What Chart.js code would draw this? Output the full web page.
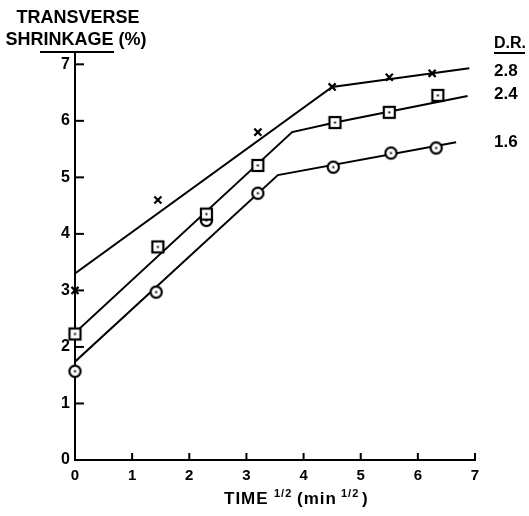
<!DOCTYPE html>
<html>
<head>
<meta charset="utf-8">
<script src="https://cdn.jsdelivr.net/npm/chart.js@4.4.1/dist/chart.umd.min.js"></script>
<style>
  html, body { margin: 0; padding: 0; background: #fff; }
  #wrap { width: 529px; height: 516px; }
</style>
</head>
<body>
<div id="wrap"><canvas id="chart" width="529" height="516"></canvas></div>
<script>
// measured points, D.R. = 2.8 (x marks)
const time28 = [0, 1.45, 3.2, 4.5, 5.5, 6.25]
const shrink28 = [3.0, 4.6, 5.8, 6.6, 6.77, 6.84]
// D.R. = 2.4 (squares)
const time24 = [0, 1.45, 2.3, 3.2, 4.55, 5.5, 6.35]
const shrink24 = [2.23, 3.77, 4.35, 5.21, 5.97, 6.15, 6.45]
// D.R. = 1.6 (circles)
const time16 = [0, 1.42, 2.3, 3.2, 4.52, 5.53, 6.32]
const shrink16 = [1.57, 2.97, 4.24, 4.72, 5.18, 5.43, 5.52]

// hand drawn fit lines
const fitTime28 = [0, 4.5, 6.9]
const fitShrink28 = [3.3, 6.6, 6.93]
const fitTime24 = [0, 3.8, 4.55, 6.87]
const fitShrink24 = [2.25, 5.8, 5.97, 6.44]
const fitTime16 = [0, 3.55, 6.67]
const fitShrink16 = [1.74, 5.04, 5.62]

const xTicks = [0, 1, 2, 3, 4, 5, 6, 7]
const yTicks = [0, 1, 2, 3, 4, 5, 6, 7]
const drLabels = ['2.8', '2.4', '1.6']

const FONT = '"Liberation Sans", Arial, sans-serif'

function pts(xs, ys) {
  return xs.map((x, i) => ({ x: x, y: ys[i] }))
}

function markerCanvas(kind) {
  const c = document.createElement('canvas')
  c.width = 17
  c.height = 17
  const g = c.getContext('2d')
  g.fillStyle = '#fff'
  g.strokeStyle = '#000'
  g.lineWidth = 2.2
  if (kind === 'square') {
    g.fillRect(3, 3, 11, 11)
    g.strokeRect(3, 3, 11, 11)
  } else {
    g.beginPath()
    g.arc(8.5, 8.5, 5.6, 0, Math.PI * 2)
    g.fill()
    g.stroke()
  }
  g.fillStyle = '#000'
  g.fillRect(7.5, 7.5, 2, 2)
  return c
}

const lineStyle = {
  showLine: true,
  borderColor: '#000',
  borderWidth: 2,
  pointRadius: 0,
  fill: false,
  tension: 0,
  order: 2,
}

const paperPlugin = {
  id: 'paper',
  beforeDraw(chart) {
    const ctx = chart.ctx
    ctx.save()
    ctx.fillStyle = '#fff'
    ctx.fillRect(0, 0, chart.width, chart.height)
    ctx.restore()
  },
  afterDraw(chart) {
    const ctx = chart.ctx
    const xs = chart.scales.x
    const ys = chart.scales.y
    const area = chart.chartArea
    ctx.save()
    ctx.strokeStyle = '#000'
    ctx.fillStyle = '#000'
    ctx.lineWidth = 2

    // inward tick marks
    yTicks.slice(1).forEach(v => {
      const py = ys.getPixelForValue(v)
      ctx.beginPath()
      ctx.moveTo(area.left, py)
      ctx.lineTo(area.left + 9, py)
      ctx.stroke()
    })
    xTicks.slice(1).forEach(v => {
      const px = xs.getPixelForValue(v)
      ctx.beginPath()
      ctx.moveTo(px, area.bottom)
      ctx.lineTo(px, area.bottom - 7)
      ctx.stroke()
    })

    // y title
    ctx.font = 'bold 18px ' + FONT
    ctx.textAlign = 'center'
    ctx.textBaseline = 'middle'
    ctx.fillText('TRANSVERSE', 78, 18)
    ctx.fillText('SHRINKAGE (%)', 76, 40)
    ctx.beginPath()
    ctx.moveTo(40, 52)
    ctx.lineTo(114, 52)
    ctx.stroke()

    // D.R. labels
    ctx.textAlign = 'left'
    ctx.font = 'bold 16px ' + FONT
    ctx.fillText('D.R.', 494, 44)
    ctx.beginPath()
    ctx.moveTo(494, 53)
    ctx.lineTo(525, 53)
    ctx.stroke()
    ctx.font = 'bold 17px ' + FONT
    const drY = [fitShrink28[2], fitShrink24[3], fitShrink16[2]]
    const drOff = [3, -2, 0]
    drLabels.forEach((t, i) => {
      ctx.fillText(t, 494, ys.getPixelForValue(drY[i]) + drOff[i])
    })

    // x title with superscripts
    const base = 504
    ctx.textBaseline = 'alphabetic'
    const parts = [
      ['TIME', 17, 0, 224],
      ['1/2', 11, -7, 274],
      ['(min', 17, 0, 297],
      ['1/2', 11, -7, 341],
      [')', 17, 0, 362],
    ]
    ctx.letterSpacing = '1px'
    parts.forEach(p => {
      ctx.font = 'bold ' + p[1] + 'px ' + FONT
      ctx.fillText(p[0], p[3], base + p[2])
    })
    ctx.restore()
  },
}

new Chart(document.getElementById('chart'), {
  type: 'scatter',
  data: {
    datasets: [
      {
        label: '2.8',
        data: pts(time28, shrink28),
        pointStyle: 'crossRot',
        pointRadius: 5,
        borderColor: '#000',
        borderWidth: 2.2,
        backgroundColor: '#000',
        clip: false,
        order: 0,
      },
      {
        label: '2.4',
        data: pts(time24, shrink24),
        pointStyle: markerCanvas('square'),
        clip: false,
        order: 0,
      },
      {
        label: '1.6',
        data: pts(time16, shrink16),
        pointStyle: markerCanvas('circle'),
        clip: false,
        order: 0,
      },
      { label: 'fit 2.8', data: pts(fitTime28, fitShrink28), ...lineStyle },
      { label: 'fit 2.4', data: pts(fitTime24, fitShrink24), ...lineStyle },
      { label: 'fit 1.6', data: pts(fitTime16, fitShrink16), ...lineStyle },
    ],
  },
  options: {
    responsive: false,
    animation: false,
    layout: { padding: { top: 53, right: 54, left: 0, bottom: 0 } },
    plugins: { legend: { display: false }, tooltip: { enabled: false } },
    scales: {
      x: {
        type: 'linear',
        min: 0,
        max: 7,
        afterBuildTicks: s => { s.ticks = xTicks.map(v => ({ value: v })) },
        afterFit: s => { s.height = 56 },
        grid: { display: false, drawTicks: false },
        border: { display: true, color: '#000', width: 2 },
        ticks: { color: '#000', padding: 7, font: { family: FONT, size: 15, weight: 'bold' } },
      },
      y: {
        type: 'linear',
        min: 0,
        max: 7.2,
        afterBuildTicks: s => { s.ticks = yTicks.map(v => ({ value: v })) },
        afterFit: s => { s.width = 75 },
        grid: { display: false, drawTicks: false },
        border: { display: true, color: '#000', width: 2 },
        ticks: { color: '#000', padding: 5, font: { family: FONT, size: 16, weight: 'bold' } },
      },
    },
  },
  plugins: [paperPlugin],
})
</script>
</body>
</html>
